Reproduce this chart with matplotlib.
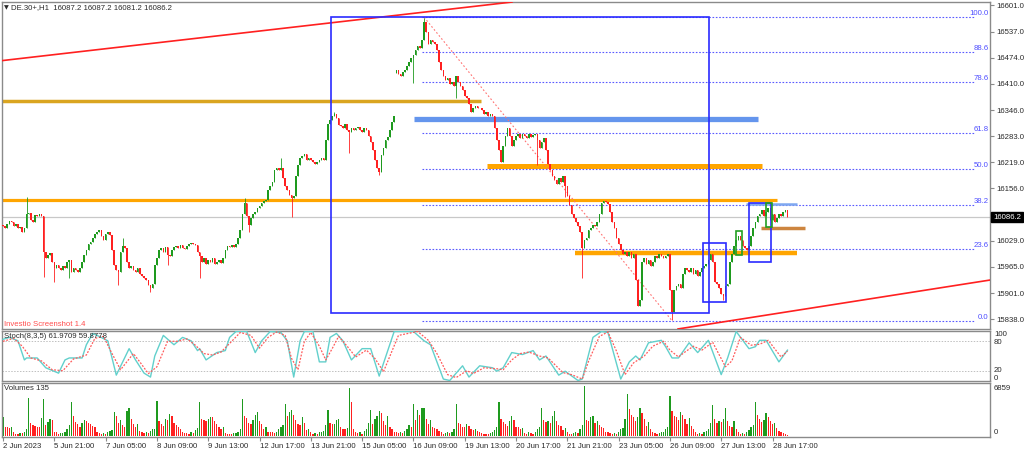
import matplotlib
matplotlib.use("Agg")
import matplotlib.pyplot as plt
from matplotlib.patches import Rectangle
import matplotlib.transforms as mtransforms
import numpy as np

plt.rcParams['font.family'] = ['Liberation Sans Narrow', 'Liberation Sans', 'DejaVu Sans']

# ---------------- data ----------------
closes = [
    16064, 16060, 16069, 16076, 16074, 16064, 16069, 16060, 16062, 16050,
    16060, 16094, 16096, 16079, 16074, 16091, 16089, 16094, 16089, 16001,
    15987, 15994, 15999, 15977, 15962, 15969, 15962, 15957, 15967, 15962,
    15977, 15982, 15952, 15962, 15957, 15952, 15962, 15977, 15994, 16006,
    16021, 16025, 16035, 16045, 16050, 16055, 16040, 16030, 16045, 16050,
    16042, 16006, 15969, 15957, 15952, 16001, 16016, 16011, 15977, 15962,
    15967, 15957, 15952, 15962, 15948, 15943, 15938, 15933, 15921, 15914,
    15923, 15969, 15987, 16006, 16011, 16001, 16013, 15994, 15991, 16006,
    16013, 16016, 16011, 16018, 16011, 16008, 16016, 16021, 16023, 16021,
    16018, 16001, 15991, 15977, 15987, 15972, 15982, 15977, 15987, 15972,
    15977, 15982, 15974, 15987, 16006, 16016, 16013, 16018, 16013, 16021,
    16035, 16055, 16094, 16120, 16089, 16067, 16084, 16094, 16098, 16108,
    16113, 16120, 16125, 16128, 16152, 16162, 16171, 16201, 16205, 16201,
    16205, 16181, 16162, 16152, 16140, 16132, 16137, 16186, 16213, 16230,
    16235, 16239, 16225, 16230, 16225, 16220, 16215, 16220, 16225, 16230,
    16225, 16274, 16312, 16322, 16332, 16337, 16327, 16310, 16308, 16303,
    16312, 16298, 16293, 16303, 16298, 16303, 16305, 16298, 16293, 16303,
    16298, 16283, 16269, 16249, 16225, 16205, 16196, 16237, 16254, 16274,
    16281, 16298, 16317, 16332, 16444, 16434, 16429, 16439, 16444, 16454,
    16463, 16473, 16480, 16492, 16502, 16497, 16517, 16560, 16536, 16507,
    16517, 16512, 16507, 16492, 16463, 16444, 16429, 16419, 16424, 16410,
    16415, 16405, 16429, 16415, 16405, 16395, 16381, 16376, 16361, 16342,
    16351, 16356, 16351, 16351, 16346, 16337, 16342, 16332, 16337, 16332,
    16303, 16274, 16249, 16220, 16259, 16283, 16303, 16283, 16259, 16274,
    16283, 16288, 16278, 16288, 16283, 16278, 16288, 16281, 16286, 16288,
    16274, 16254, 16269, 16278, 16249, 16215, 16201, 16186, 16176, 16166,
    16181, 16171, 16186, 16162, 16137, 16115, 16094, 16084, 16074, 16064,
    16050, 16011, 16030, 16035, 16055, 16060, 16067, 16064, 16074, 16094,
    16120, 16125, 16123, 16118, 16098, 16074, 16060, 16035, 16021, 16006,
    15996, 16001, 15991, 16001, 15987, 15996, 15933, 15870, 15884, 15977,
    15987, 15972, 15982, 15967, 15977, 15991, 15987, 15996, 15991, 15987,
    15991, 15996, 15909, 15855, 15909, 15918, 15923, 15914, 15948, 15962,
    15957, 15952, 15962, 15948, 15957, 15943, 15952, 15962, 15967, 15972,
    15982, 15996, 15977, 15928, 15923, 15914, 15899, 15894, 15918, 15923,
    15977, 15996, 16016, 16030, 16040, 16030, 16016, 16011, 16006, 16016,
    16040, 16060, 16074, 16089, 16094, 16103, 16089, 16098, 16108, 16079,
    16094, 16074, 16084, 16094, 16089, 16098, 16103, 16086.2,
]
first_open = 16066
gap_opens = {184: 16436}
wick_highs = {11: 16135, 56: 16035, 113: 16132, 130: 16230, 155: 16342, 197: 16570}
wick_lows = {19: 15940, 24: 15928, 31: 15938, 54: 15921, 69: 15904, 77: 15969,
             92: 15938, 115: 16050, 135: 16086, 162: 16242, 176: 16188, 192: 16412,
             212: 16376, 250: 16213, 263: 16134, 271: 15938, 313: 15836, 337: 15884}

volumes = [
    2650, 1300, 1200, 1100, 1300, 500,
    300, 250, 400, 350, 500, 900, 5170, 1800, 1500, 1400, 1300, 1200, 2500, 5130, 1500, 1900, 2400, 2200, 600, 500,
    300, 350, 400, 500, 900, 1500, 4600, 2800, 1900, 1600, 1200, 1800, 2200, 2000, 1800, 1600, 1400, 1300, 600, 400,
    300, 400, 250, 500, 700, 800, 3300, 2700, 1800, 2200, 1500, 1300, 3400, 3900, 2300, 1700, 1200, 1600, 700, 500,
    400, 600, 400, 700, 900, 1000, 4850, 2100, 1600, 1400, 2300, 2200, 3000, 2700, 1800, 1500, 1300, 900, 600, 400,
    400, 300, 600, 400, 800, 1100, 4700, 2400, 2200, 2000, 2300, 2600, 2600, 2000, 1600, 1200, 900, 1300, 400, 300,
    300, 250, 350, 400, 500, 1000, 5040, 2700, 2500, 1800, 1600, 2200, 2900, 3300, 2100, 1700, 1000, 1300, 600, 500,
    500, 400, 600, 900, 1200, 1500, 4390, 2700, 3300, 3500, 2900, 2200, 1700, 1500, 2600, 1800, 800, 1000, 500, 300,
    400, 300, 500, 600, 700, 1500, 3560, 1800, 1600, 1700, 2200, 2300, 1300, 1000, 900, 1100, 6530, 4600, 900, 600,
    400, 500, 300, 700, 900, 1800, 3600, 1600, 2400, 2700, 3400, 3100, 2100, 1500, 2700, 1300, 1000, 600, 500, 400,
    500, 400, 700, 1000, 1500, 1200, 4340, 2200, 3500, 2900, 3800, 3900, 2400, 1700, 2200, 1300, 1100, 900, 700, 500,
    300, 400, 500, 350, 600, 900, 4340, 1800, 1700, 1300, 1200, 1600, 1400, 900, 800, 1000, 700, 500, 400, 300,
    300, 250, 400, 600, 800, 1200, 4700, 2300, 1900, 1600, 1400, 2000, 2800, 2200, 1300, 1200, 1000, 1100, 400, 300,
    500, 400, 300, 600, 1000, 1300, 3790, 2200, 1900, 2100, 1800, 2800, 3400, 2100, 1500, 1400, 800, 1100, 500, 300,
    300, 400, 500, 400, 900, 1500, 6850, 2200, 2000, 2600, 2700, 1800, 2100, 1500, 1300, 1100, 600, 500, 400, 300,
    400, 300, 600, 900, 1100, 2300, 5700, 3700, 2900, 2600, 2100, 2600, 3900, 3200, 2300, 1400, 1900, 1000, 600, 400,
    300, 400, 500, 600, 900, 1300, 5530, 3400, 2700, 2600, 2200, 3300, 2900, 2300, 1700, 2500, 1400, 900, 500, 300,
    400, 300, 500, 700, 1000, 1800, 4250, 2400, 1800, 2100, 1900, 2300, 3880, 2000, 1400, 1200, 2000, 900, 500, 300,
    400, 300, 600, 800, 1200, 1500, 4620, 2900, 2300, 1900, 2200, 3100, 2600, 2000, 1600, 1800, 1100, 700, 500, 400, 300, 135,
]
vol_max_label = 6859

stoch_k_bar = [0, 3, 7, 10, 11, 16, 20, 26, 29, 31, 37, 39, 42, 45, 49, 53, 59, 62, 66, 69,
               71, 75, 80, 84, 88, 91, 92, 95, 100, 104, 106, 109, 114, 118, 121, 125, 130, 133, 136, 139,
               141, 145, 148, 151, 153, 156, 159, 163, 168, 172, 176, 183, 192, 197, 200, 206, 209, 215, 218, 223,
               229, 231, 234, 238, 243, 248, 251, 254, 260, 263, 269, 271, 276, 280, 283, 289, 293, 296, 298, 302,
               308, 310, 313, 316, 321, 325, 330, 336, 339, 343, 349, 352, 354, 357, 363, 365, 367]
stoch_k = [84, 88, 81, 42, 46, 46, 26, 15, 42, 46, 46, 73, 96, 90, 81, 11, 65, 42, 15, 7,
           50, 92, 73, 88, 81, 61, 65, 42, 57, 61, 88, 100, 100, 57, 81, 100, 98, 81, 7, 81,
           100, 100, 38, 38, 88, 96, 81, 42, 65, 65, 9, 100, 100, 81, 73, 3, 0, 30, 7, 30,
           26, 19, 26, 57, 53, 61, 42, 50, 11, 19, 0, 3, 88, 100, 98, 3, 38, 50, 42, 77,
           82, 69, 46, 46, 77, 57, 82, 12, 46, 100, 65, 69, 82, 82, 38, 50, 61.97]
stoch_d_bar = [0, 5, 9, 13, 18, 23, 28, 33, 39, 43, 47, 51, 55, 61, 64, 68, 72, 77, 82, 86,
               90, 94, 98, 102, 107, 111, 116, 120, 124, 128, 132, 135, 138, 141, 144, 148, 151, 154, 157, 161,
               165, 170, 174, 178, 185, 194, 199, 203, 208, 212, 217, 220, 225, 231, 234, 238, 242, 246, 251, 255,
               262, 266, 271, 274, 279, 283, 287, 291, 295, 300, 304, 309, 312, 316, 319, 323, 327, 332, 338, 341,
               345, 350, 354, 358, 364, 367]
stoch_d = [80, 86, 70, 46, 40, 22, 20, 44, 52, 86, 90, 55, 22, 55, 38, 14, 28, 80, 80, 85,
           72, 55, 52, 58, 80, 98, 92, 66, 88, 99, 92, 45, 22, 80, 98, 70, 42, 65, 90, 70,
           48, 62, 45, 18, 92, 100, 82, 55, 12, 6, 20, 14, 26, 24, 22, 42, 55, 58, 50, 46,
           16, 12, 3, 40, 90, 99, 60, 12, 36, 50, 70, 80, 62, 48, 58, 70, 62, 78, 28, 40,
           88, 72, 74, 82, 48, 59.88]
stoch_levels = [20, 80]

tick_bars = [0, 24, 48, 72, 96, 120, 144, 168, 192, 216, 240, 264, 288, 312, 336, 360]
tick_labels = ["2 Jun 2023", "5 Jun 21:00", "7 Jun 05:00", "8 Jun 09:00", "9 Jun 13:00",
               "12 Jun 17:00", "13 Jun 21:00", "15 Jun 05:00", "16 Jun 09:00", "19 Jun 13:00",
               "20 Jun 17:00", "21 Jun 21:00", "23 Jun 05:00", "26 Jun 09:00", "27 Jun 13:00",
               "28 Jun 17:00"]
price_ticks = [16601, 16537, 16474, 16410, 16346, 16283, 16219, 16156, 16029, 15965, 15901, 15838]
last_price = 16086.2
fib_high, fib_low = 16572.0, 15834.0
fib_bar_high, fib_bar_low = 197, 313
fib_levels = [0.0, 23.6, 38.2, 50.0, 61.8, 78.6, 88.6, 100.0]

# ---------------- layout ----------------
W, H = 1024, 449
fig = plt.figure(figsize=(W / 100, H / 100), dpi=100)
fig.patch.set_facecolor("white")

def box(top, bottom, left=2, right=990):
    return [left / W, 1 - bottom / H, (right - left) / W, (bottom - top) / H]

ax = fig.add_axes(box(2, 329))
axs = fig.add_axes(box(331, 381))
axv = fig.add_axes(box(383, 437))

XL = (-0.47, 461.75)
FS = 5.6
TXT = "#2a2a2a"
for a in (ax, axs, axv):
    a.set_xlim(*XL)
    for s in a.spines.values():
        s.set_color("#8a8a8a")
        s.set_linewidth(1.0)
    a.tick_params(left=False, labelleft=False)

GREEN = "#1e9a1e"
RED = "#ff2020"

# ---------------- candles ----------------
n = len(closes)
idx = np.arange(n)
opens = [first_open] + closes[:-1]
for k, v in gap_opens.items():
    opens[k] = v
opens = np.array(opens, dtype=float)
cl = np.array(closes, dtype=float)
up = cl >= opens
cols = np.where(up, GREEN, RED)
hi = np.maximum(opens, cl)
lo = np.minimum(opens, cl)
for k, v in wick_highs.items():
    hi[k] = max(hi[k], v)
for k, v in wick_lows.items():
    lo[k] = min(lo[k], v)
ax.vlines(idx, lo, hi, colors=cols, linewidth=0.6, zorder=3)
body_h = np.maximum(np.abs(cl - opens), 1.5)
ax.bar(idx, body_h, bottom=np.minimum(opens, cl), width=0.75, color=cols, linewidth=0, zorder=4)

ax.set_ylim(15813.9, 16609.1)
ax.yaxis.tick_right()
ax.set_yticks(price_ticks)
ax.set_yticklabels([f"{v:.1f}" for v in price_ticks])
ax.tick_params(axis="y", right=True, labelright=True, labelsize=FS, length=3,
               colors="#8a8a8a", labelcolor=TXT, pad=1.5)
ax.tick_params(axis="x", bottom=False, labelbottom=False)

ax.axhline(last_price, color="#c8c8c8", linewidth=0.9, zorder=1)

# ---------------- drawings ----------------
ax.plot([-1.4, 238.1], [16466, 16609], color="#ff2020", linewidth=1.2, zorder=5)
ax.plot([315.8, 461.8], [15814, 15933], color="#ff2020", linewidth=1.2, zorder=5)
ax.plot([-1.4, 223.6], [16368.4, 16368.4], color="#daa520", linewidth=2.5, solid_capstyle="butt", zorder=2)
ax.plot([-1.4, 362.1], [16127.6, 16127.6], color="#ffa500", linewidth=2.3, solid_capstyle="butt", zorder=2)
ax.plot([192.3, 353.2], [16324.6, 16324.6], color="#6495ed", linewidth=3.8, solid_capstyle="butt", zorder=2)
ax.plot([226.4, 355.1], [16210.3, 16210.3], color="#ffa500", linewidth=3.6, solid_capstyle="butt", zorder=2)
ax.plot([267.6, 371.5], [15998.7, 15998.7], color="#ffa500", linewidth=3.2, solid_capstyle="butt", zorder=2)
ax.plot([354.6, 375.2], [16059.5, 16059.5], color="#cd853f", linewidth=2.5, solid_capstyle="butt", zorder=6)
ax.plot([347.6, 371.5], [16117.9, 16117.9], color="#7fa8f0", linewidth=1.8, solid_capstyle="butt", zorder=6)

fib_rng = fib_high - fib_low
for lv in fib_levels:
    py = fib_low + fib_rng * lv / 100.0
    ax.plot([196.0, 454.8], [py, py], color="#5a5aff", linewidth=0.8,
            linestyle=(0, (1.5, 1.5)), zorder=2)
    ax.text(461.0, py, f"{lv:.1f}", color="#4d4dff", fontsize=5.6,
            ha="right", va="bottom", zorder=7)
ax.plot([fib_bar_high, fib_bar_low], [fib_high, fib_low], color="#ff7070",
        linewidth=0.8, linestyle=(0, (1.5, 2)), zorder=2)

for (x0, x1, y0, y1, c) in [
    (153.5, 330.3, 15852.8, 16572.0, "#2b2bff"),
    (327.5, 338.2, 15879.0, 16023.0, "#2b2bff"),
    (349.0, 359.3, 15977.0, 16120.0, "#2b2bff"),
    (343.0, 345.7, 15994.0, 16052.0, "#22a022"),
    (357.0, 359.6, 16063.0, 16120.0, "#22a022"),
]:
    ax.add_patch(Rectangle((x0, y0), x1 - x0, y1 - y0, fill=False,
                           edgecolor=c, linewidth=1.2, zorder=6))

trans = mtransforms.blended_transform_factory(ax.transAxes, ax.transData)
ax.text(1.003, last_price, f"{last_price:.1f}", transform=trans, color="white",
        fontsize=FS, ha="left", va="center", clip_on=False, zorder=10,
        bbox=dict(boxstyle="square,pad=0.25", facecolor="black", edgecolor="black"))

# ---------------- stochastic ----------------
axs.set_ylim(-1, 101)
for lvl in stoch_levels:
    axs.axhline(lvl, color="#c0c0c0", linewidth=0.7, linestyle=(0, (1.5, 1.5)))
axs.plot(stoch_k_bar, stoch_k, color="#62d0cc", linewidth=1.0, zorder=3)
axs.plot(stoch_d_bar, stoch_d, color="#ff5a5a", linewidth=0.9, linestyle=(0, (1.5, 1.2)), zorder=4)
axs.set_xticks([])
axs.set_yticks([])

# ---------------- volumes ----------------
vol = np.array(volumes, dtype=float)
vcol = [GREEN] + [GREEN if vol[i] > vol[i - 1] else RED for i in range(1, len(vol))]
axv.bar(np.arange(len(vol)), vol, width=0.6, color=vcol, linewidth=0)
axv.set_ylim(-137, 7270)
axv.set_yticks([])
axv.set_xticks(tick_bars)
axv.set_xticklabels(tick_labels, ha="left")
axv.tick_params(axis="x", labelsize=FS, length=3, colors="#8a8a8a", labelcolor=TXT, pad=1.5)

# ---------------- texts ----------------
def ftext(x, y, s, **kw):
    kw.setdefault("fontsize", FS)
    fig.text(x / W, 1 - y / H, s, va="center", **kw)

ftext(4, 8, "\u25bc", color=TXT, family="DejaVu Sans", fontsize=4.5)
ftext(11, 8, "DE.30+,H1  16087.2 16087.2 16081.2 16086.2", color=TXT)
ftext(4, 324, "Investio Screenshot 1.4", color="#ff4d4d")
ftext(4, 336, "Stoch(8,3,5) 61.9709 59.8778", color=TXT)
ftext(4, 389, "Volumes 135", color=TXT)
ftext(994, 335, "100", color=TXT)
ftext(994, 342, "80", color=TXT)
ftext(994, 371, "20", color=TXT)
ftext(994, 378, "0", color=TXT)
ftext(994, 388, f"{vol_max_label}", color=TXT)
ftext(994, 432, "0", color=TXT)

fig.savefig("out.png", dpi=100)
